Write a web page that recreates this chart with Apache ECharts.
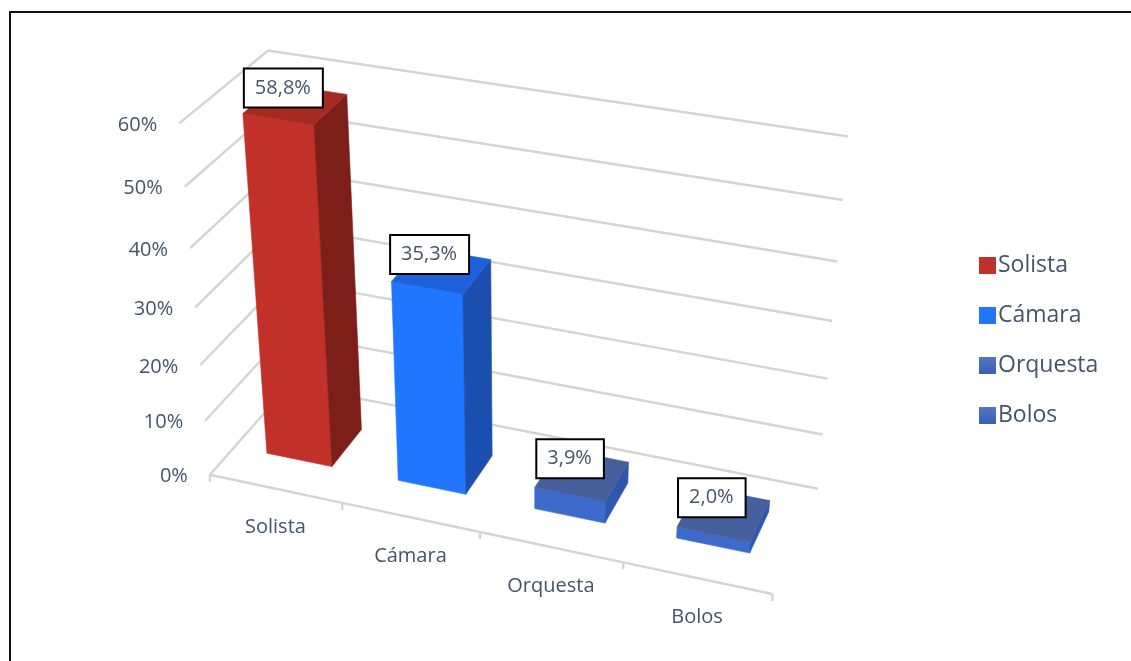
<!DOCTYPE html>
<html>
<head>
<meta charset="utf-8">
<script src="https://cdn.jsdelivr.net/npm/echarts@6/dist/echarts.min.js"></script>
<style>
  html, body { margin: 0; padding: 0; background: #fff; }
  #chart { width: 1131px; height: 661px; }
</style>
</head>
<body>
<div id="chart"></div>
<script>
// ---- data ----
const categories = ['Solista', 'Cámara', 'Orquesta', 'Bolos'];
const shares = [58.8, 35.3, 3.9, 2.0];
const percentTicks = [0, 10, 20, 30, 40, 50, 60];

// ---- styling ----
const TEXT = '#44546a';
const FONT = '"Open Sans", Lato, sans-serif';
const palette = [
  { front: '#c1312a', side: '#7d1f18', top: '#a52a22', legend: '#c1312a' },
  { front: '#2176ff', side: '#1a4fb0', top: '#1d62dc', legend: '#2176ff' },
  { front: '#3d6bcc', side: '#2f56ad', top: '#46609e', legend: 'grad' },
  { front: '#3d6bcc', side: '#2f56ad', top: '#46609e', legend: 'grad' }
];
const BAR_WIDTH = 0.5;      // share of a category slot
const DEPTH_FRONT = 0.3;    // bar depth range inside the floor (0 = front, 1 = back)
const DEPTH_BACK = 0.7;

// Screen anchors of the plot box corners: [u, v, w, x, y]
// u = position along categories (0..1), v = value share of the axis (0..1), w = depth (0..1)
const boxAnchors = [
  [0, 0, 0, 210, 474], [0, 0.5, 0, 195, 307], [0, 1, 0, 180, 125],
  [0, 1 / 6, 0, 205, 420], [0, 5 / 6, 0, 185, 185],
  [0, 1, 1, 267, 50], [0, 0, 1, 290, 386],
  [1, 1, 1, 848, 137], [1, 5 / 6, 1, 843, 200], [1, 0.5, 1, 833, 322],
  [1, 1 / 6, 1, 822, 433], [1, 0, 1, 818, 488],
  [1, 0, 0, 773, 594], [0.25, 0, 0, 343, 504], [0.5, 0, 0, 478, 533]
];

// Fit a 3x4 perspective projection (DLT, least squares)
function fitProjection(anchors) {
  const rows = [], rhs = [];
  anchors.forEach(([X, Y, Z, sx, sy]) => {
    const x = sx / 1000, y = sy / 1000;
    rows.push([X, Y, Z, 1, 0, 0, 0, 0, -x * X, -x * Y, -x * Z]); rhs.push(x);
    rows.push([0, 0, 0, 0, X, Y, Z, 1, -y * X, -y * Y, -y * Z]); rhs.push(y);
  });
  const n = 11;
  const M = Array.from({ length: n }, () => new Array(n + 1).fill(0));
  rows.forEach((r, k) => {
    for (let a = 0; a < n; a++) {
      for (let b = 0; b < n; b++) M[a][b] += r[a] * r[b];
      M[a][n] += r[a] * rhs[k];
    }
  });
  for (let c = 0; c < n; c++) {
    let p = c;
    for (let r = c + 1; r < n; r++) if (Math.abs(M[r][c]) > Math.abs(M[p][c])) p = r;
    const t = M[c]; M[c] = M[p]; M[p] = t;
    for (let r = 0; r < n; r++) {
      if (r === c) continue;
      const f = M[r][c] / M[c][c];
      for (let k = c; k <= n; k++) M[r][k] -= f * M[c][k];
    }
  }
  return M.map((row, i) => row[n] / row[i]);
}
const P = fitProjection(boxAnchors);
function project(u, v, w) {
  const d = P[8] * u + P[9] * v + P[10] * w + 1;
  return [1000 * (P[0] * u + P[1] * v + P[2] * w + P[3]) / d,
          1000 * (P[4] * u + P[5] * v + P[6] * w + P[7]) / d];
}

// helpers converting the flat (hidden) cartesian coords into box units
function toU(cs, px) { return (px - cs.x) / cs.width; }
function toV(cs, py) { return (cs.y + cs.height - py) / cs.height; }
function poly(points, fill) {
  return { type: 'polygon', shape: { points }, style: { fill, stroke: fill, lineWidth: 0.6 } };
}
const GRID_STYLE = { stroke: '#d4d4d4', lineWidth: 2.4 };

function renderGridline(params, api) {
  const cs = params.coordSys;
  const c = api.coord([0, api.value(1)]);
  const v = toV(cs, c[1]);
  const a = project(0, v, 0), b = project(0, v, 1), d = project(1, v, 1);
  return {
    type: 'group',
    children: [
      { type: 'polyline', shape: { points: [a, b, d] }, style: Object.assign({ fill: null }, GRID_STYLE) },
      { type: 'text', x: a[0] - 22, y: a[1] + 2,
        style: { text: api.value(1) + '%', fill: TEXT, font: '20px ' + FONT, align: 'right', verticalAlign: 'middle' } }
    ]
  };
}

function renderFloorEdge(params, api) {
  const cs = params.coordSys;
  const i = api.value(0);
  const c = api.coord([i, 0]);
  const band = api.size([1, 0])[0];
  const u0 = toU(cs, c[0] - band / 2), u1 = toU(cs, c[0] + band / 2), um = toU(cs, c[0]);
  const e0 = project(u0, 0, 0), e1 = project(u1, 0, 0), mid = project(um, 0, 0);
  const children = [
    { type: 'line', shape: { x1: e0[0], y1: e0[1], x2: e1[0], y2: e1[1] }, style: GRID_STYLE },
    { type: 'line', shape: { x1: e0[0], y1: e0[1], x2: e0[0], y2: e0[1] + 7 }, style: GRID_STYLE },
    { type: 'text', x: mid[0], y: mid[1] + 39,
      style: { text: categories[i], fill: TEXT, font: '20px ' + FONT, align: 'center', verticalAlign: 'middle' } }
  ];
  if (i === categories.length - 1) {
    children.push({ type: 'line', shape: { x1: e1[0], y1: e1[1], x2: e1[0], y2: e1[1] + 7 }, style: GRID_STYLE });
  }
  return { type: 'group', children };
}

function makeBarRenderer(col) {
  return function (params, api) {
    const cs = params.coordSys;
    const i = api.value(0), val = api.value(1);
    const base = api.coord([i, 0]), top = api.coord([i, val]);
    const band = api.size([1, 0])[0];
    const uc = toU(cs, base[0]);
    const hw = band / cs.width * BAR_WIDTH / 2;
    const u0 = uc - hw, u1 = uc + hw, v = toV(cs, top[1]);
    const w0 = DEPTH_FRONT, w1 = DEPTH_BACK;
    const anchor = project(uc, v, (w0 + w1) / 2);
    return {
      type: 'group',
      children: [
        poly([project(u0, 0, w0), project(u1, 0, w0), project(u1, v, w0), project(u0, v, w0)], col.front),
        poly([project(u1, 0, w0), project(u1, 0, w1), project(u1, v, w1), project(u1, v, w0)], col.side),
        poly([project(u0, v, w0), project(u1, v, w0), project(u1, v, w1), project(u0, v, w1)], col.top),
        { type: 'text', x: anchor[0] - 12, y: anchor[1] - 16, z2: 10,
          style: {
            text: val.toFixed(1).replace('.', ',') + '%', fill: TEXT, font: '20px ' + FONT,
            align: 'center', verticalAlign: 'middle',
            backgroundColor: '#fff', borderColor: '#000', borderWidth: 2, padding: [9, 11, 8, 10]
          } }
      ]
    };
  };
}

const blueGrad = new echarts.graphic.LinearGradient(0, 0, 0, 1, [
  { offset: 0, color: '#5577c2' }, { offset: 1, color: '#3560b8' }
]);

const series = [
  { type: 'custom', name: 'grid', silent: true, z: 1, renderItem: renderGridline,
    data: percentTicks.map(t => [0, t]) },
  { type: 'custom', name: 'floor', silent: true, z: 1, renderItem: renderFloorEdge,
    data: categories.map((c, i) => [i, 0]) }
];
categories.forEach((name, i) => {
  series.push({
    type: 'custom', name, z: 2 + i,
    renderItem: makeBarRenderer(palette[i]),
    itemStyle: { color: palette[i].legend === 'grad' ? blueGrad : palette[i].legend },
    data: [[i, shares[i]]]
  });
});

const chart = echarts.init(document.getElementById('chart'), null, { renderer: 'canvas' });
chart.setOption({
  animation: false,
  backgroundColor: '#fff',
  grid: { left: 0, top: 0, width: 400, height: 300 },
  xAxis: { type: 'category', data: categories, show: false },
  yAxis: { type: 'value', min: 0, max: 60, interval: 10, show: false },
  legend: {
    data: categories, orient: 'vertical', left: 974, top: 249,
    icon: 'rect', itemWidth: 17, itemHeight: 17, itemGap: 27,
    textStyle: { color: TEXT, fontSize: 23, fontFamily: FONT, padding: [0, 0, 0, -3] }
  },
  graphic: [
    { type: 'rect', shape: { x: 10, y: 12, width: 1200, height: 700 },
      style: { fill: null, stroke: '#111', lineWidth: 2 }, silent: true }
  ],
  series
});
</script>
</body>
</html>
